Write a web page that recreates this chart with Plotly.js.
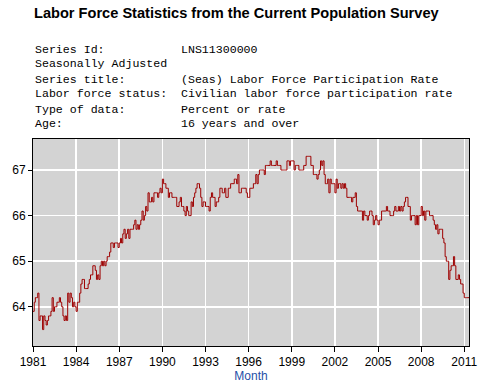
<!DOCTYPE html>
<html>
<head>
<meta charset="utf-8">
<script src="https://cdn.plot.ly/plotly-3.0.1.min.js"></script>
<style>
html,body{margin:0;padding:0;background:#fff;}
#chart{width:480px;height:390px;}
</style>
</head>
<body>
<div id="chart"></div>
<script>
// Monthly values, Jan 1981 .. May 2011
const years = [1981,1982,1983,1984,1985,1986,1987,1988,1989,1990,1991,1992,1993,1994,1995,1996,1997,1998,1999,2000,2001,2002,2003,2004,2005,2006,2007,2008,2009,2010,2011];
const rate1981 = [63.9,64.1,64.2,64.2,64.3,63.7,63.8,63.8,63.5,63.8,63.7,63.6];
const rate1982 = [63.7,63.8,63.8,63.9,64.2,63.9,64.0,64.0,64.1,64.1,64.2,64.1];
const rate1983 = [64.0,63.8,63.7,63.8,63.7,64.3,64.1,64.3,64.2,64.0,64.1,64.0];
const rate1984 = [63.9,64.1,64.1,64.3,64.5,64.6,64.6,64.4,64.4,64.4,64.5,64.6];
const rate1985 = [64.7,64.7,64.9,64.9,64.8,64.6,64.7,64.6,64.9,65.0,64.9,65.0];
const rate1986 = [64.9,65.0,65.1,65.1,65.2,65.4,65.4,65.3,65.4,65.4,65.4,65.3];
const rate1987 = [65.4,65.5,65.4,65.6,65.7,65.5,65.6,65.7,65.5,65.7,65.7,65.7];
const rate1988 = [65.8,65.9,65.7,65.8,65.7,65.8,65.9,66.1,65.9,66.0,66.2,66.1];
const rate1989 = [66.5,66.3,66.3,66.4,66.3,66.5,66.5,66.5,66.4,66.5,66.6,66.5];
const rate1990 = [66.8,66.7,66.7,66.6,66.6,66.4,66.5,66.5,66.4,66.4,66.4,66.4];
const rate1991 = [66.2,66.2,66.3,66.4,66.2,66.2,66.1,66.0,66.2,66.1,66.0,66.0];
const rate1992 = [66.3,66.2,66.4,66.5,66.6,66.7,66.7,66.6,66.4,66.2,66.3,66.3];
const rate1993 = [66.2,66.2,66.2,66.1,66.4,66.5,66.4,66.4,66.2,66.3,66.3,66.4];
const rate1994 = [66.6,66.6,66.5,66.5,66.6,66.4,66.4,66.6,66.6,66.7,66.7,66.7];
const rate1995 = [66.8,66.8,66.7,66.9,66.5,66.5,66.6,66.6,66.6,66.6,66.5,66.4];
const rate1996 = [66.4,66.6,66.6,66.6,66.7,66.7,66.9,66.7,66.9,67.0,67.0,67.0];
const rate1997 = [67.0,66.9,67.1,67.1,67.1,67.1,67.2,67.1,67.1,67.1,67.1,67.2];
const rate1998 = [67.1,67.1,67.1,67.0,67.0,67.0,67.0,67.0,67.2,67.2,67.1,67.2];
const rate1999 = [67.2,67.2,67.0,67.1,67.1,67.1,67.0,67.0,67.0,67.0,67.1,67.1];
const rate2000 = [67.3,67.3,67.3,67.3,67.1,67.1,66.9,66.9,66.9,66.8,66.9,67.0];
const rate2001 = [67.2,67.1,67.2,66.9,66.7,66.7,66.8,66.5,66.8,66.7,66.7,66.7];
const rate2002 = [66.5,66.8,66.6,66.7,66.7,66.6,66.7,66.6,66.7,66.6,66.4,66.4];
const rate2003 = [66.4,66.4,66.3,66.4,66.4,66.5,66.2,66.1,66.1,66.1,66.1,65.9];
const rate2004 = [66.1,66.0,66.0,65.9,66.0,66.1,66.1,66.0,65.8,65.9,66.0,65.9];
const rate2005 = [65.8,65.9,65.9,66.1,66.1,66.1,66.1,66.2,66.1,66.1,66.0,66.0];
const rate2006 = [66.0,66.1,66.2,66.1,66.1,66.2,66.1,66.2,66.1,66.2,66.3,66.4];
const rate2007 = [66.4,66.2,66.2,65.9,66.0,66.0,66.0,65.8,66.0,65.8,66.0,66.0];
const rate2008 = [66.2,66.0,66.1,65.9,66.1,66.1,66.1,66.0,66.0,66.0,65.9,65.8];
const rate2009 = [65.7,65.8,65.6,65.7,65.7,65.7,65.5,65.4,65.1,65.0,65.0,64.6];
const rate2010 = [64.8,64.9,64.9,65.1,64.9,64.6,64.6,64.7,64.6,64.5,64.5,64.3];
const rate2011 = [64.2,64.2,64.2,64.2,64.2];

const ratesByYear = [rate1981,rate1982,rate1983,rate1984,rate1985,rate1986,rate1987,rate1988,rate1989,rate1990,rate1991,rate1992,rate1993,rate1994,rate1995,rate1996,rate1997,rate1998,rate1999,rate2000,rate2001,rate2002,rate2003,rate2004,rate2005,rate2006,rate2007,rate2008,rate2009,rate2010,rate2011];

const xTickYears = ["1981","1984","1987","1990","1993","1996","1999","2002","2005","2008","2011"];
const yTickVals = [64,65,66,67];

const titleText = "Labor Force Statistics from the Current Population Survey";
const infoLabels = ["Series Id:","Seasonally Adjusted","Series title:","Labor force status:","Type of data:","Age:"];
const infoValues = ["LNS11300000","","(Seas) Labor Force Participation Rate","Civilian labor force participation rate","Percent or rate","16 years and over"];
const xAxisTitle = "Month";

// Build series
const xs = [], ys = [];
years.forEach((yr, i) => {
  ratesByYear[i].forEach((v, m) => {
    xs.push(yr + "-" + String(m + 1).padStart(2, "0") + "-01");
    ys.push(v);
  });
});

const W = 480, H = 390;
const M = {l: 33, r: 11, t: 139, b: 44};
const plotH = H - M.t - M.b;
const plotW = W - M.l - M.r;
const py = p => (H - M.b - p) / plotH;
const px = p => (p - M.l) / plotW;

const annotations = [];
annotations.push({
  text: "<b>" + titleText + "</b>", xref: "paper", yref: "paper",
  x: px(32), y: py(13), xanchor: "left", yanchor: "middle", showarrow: false,
  font: {family: "Liberation Sans, Arial, sans-serif", size: 14.6, color: "#000"}
});
infoLabels.forEach((lab, i) => {
  const yy = py(49 + i * 15);
  annotations.push({
    text: lab, xref: "paper", yref: "paper", x: px(33), y: yy,
    xanchor: "left", yanchor: "middle", showarrow: false,
    font: {family: "Liberation Mono, Courier New, monospace", size: 11.6, color: "#000"}
  });
  if (infoValues[i]) annotations.push({
    text: infoValues[i], xref: "paper", yref: "paper", x: px(179), y: yy,
    xanchor: "left", yanchor: "middle", showarrow: false,
    font: {family: "Liberation Mono, Courier New, monospace", size: 11.6, color: "#000"}
  });
});

const trace = {
  x: xs, y: ys, type: "scatter", mode: "lines",
  line: {color: "#9E0000", width: 1, shape: "hv"},
  hoverinfo: "skip"
};

const layout = {
  width: W, height: H,
  margin: M,
  paper_bgcolor: "#fff",
  plot_bgcolor: "#D3D3D3",
  showlegend: false,
  font: {family: "Liberation Sans, Arial, sans-serif", size: 12, color: "#000"},
  xaxis: {
    type: "date",
    range: [xs[0], xs[xs.length - 1]],
    tickvals: xTickYears.map(y => y + "-01-01"),
    ticktext: xTickYears,
    ticks: "outside", ticklen: 5, tickcolor: "#000",
    showline: true, linecolor: "#000", linewidth: 1, mirror: true,
    showgrid: true, gridcolor: "#fff", gridwidth: 1.5,
    zeroline: false,
    tickfont: {size: 12, color: "#000"},
    title: {text: xAxisTitle, font: {size: 12, color: "#1F4FA8"}, standoff: 3}
  },
  yaxis: {
    range: [63.14, 67.68],
    tickvals: yTickVals,
    ticktext: yTickVals.map(String),
    ticks: "outside", ticklen: 4, tickcolor: "#000",
    showline: true, linecolor: "#000", linewidth: 1, mirror: true,
    showgrid: true, gridcolor: "#fff", gridwidth: 1.5,
    zeroline: false,
    tickfont: {size: 12, color: "#000"}
  },
  annotations: annotations
};

Plotly.newPlot("chart", [trace], layout, {displayModeBar: false, staticPlot: true});
</script>
</body>
</html>
